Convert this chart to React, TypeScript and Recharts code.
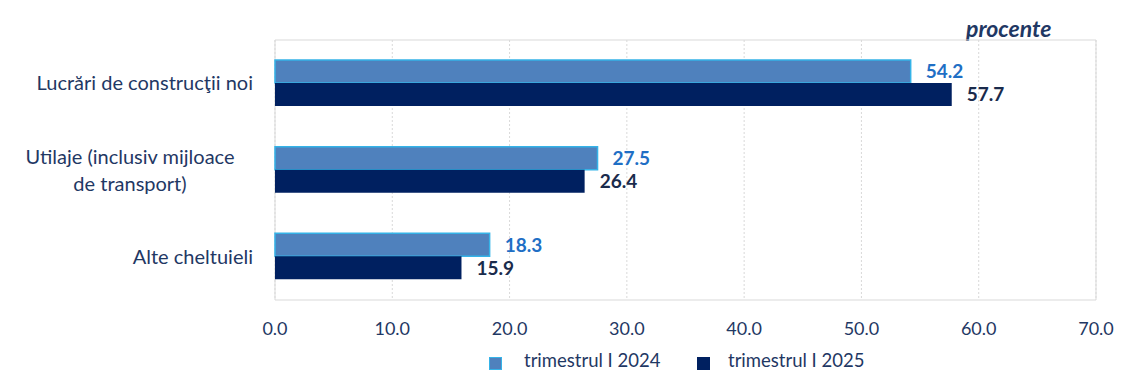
import { useEffect } from "react";
import {
  Bar,
  BarChart,
  CartesianGrid,
  LabelList,
  Legend,
  ReferenceArea,
  XAxis,
  YAxis,
} from "recharts";

const categories = [
  "Lucrări de construcţii noi",
  "Utilaje (inclusiv mijloace\nde transport)",
  "Alte cheltuieli",
];
const q1_2024 = [54.2, 27.5, 18.3];
const q1_2025 = [57.7, 26.4, 15.9];
const xTicks = [0, 10, 20, 30, 40, 50, 60, 70];
const seriesNames = ["trimestrul I 2024", "trimestrul I 2025"];

const FONT = "Lato, 'Noto Sans', sans-serif";
const NAVY = "#1F3864";
const C2024 = "#4F81BD";
const C2024_EDGE = "#35B3E8";
const C2025 = "#002060";

const data = categories.map((name, i) => ({
  name,
  a: q1_2024[i],
  b: q1_2025[i],
}));

function CategoryTick(props: any) {
  const { x, y, payload } = props;
  const lines = String(payload.value).split("\n");
  if (lines.length === 1) {
    return (
      <text x={x} y={y} dy="0.35em" textAnchor="end" fill={NAVY} fontSize={20} fontFamily={FONT}>
        {lines[0]}
      </text>
    );
  }
  const lh = 27;
  const start = -((lines.length - 1) * lh) / 2;
  return (
    <text x={x - 123} y={y} textAnchor="middle" fill={NAVY} fontSize={20} fontFamily={FONT}>
      {lines.map((l, i) => (
        <tspan key={i} x={x - 123} dy={i === 0 ? start + 7 : lh}>
          {l}
        </tspan>
      ))}
    </text>
  );
}

function LegendBox() {
  const items = [
    { name: seriesNames[0], fill: C2024, edge: C2024_EDGE, sq: 489, tx: 524 },
    { name: seriesNames[1], fill: C2025, edge: C2025, sq: 697, tx: 728 },
  ];
  return (
    <div style={{ position: "relative", height: 51, width: 1147, fontFamily: FONT }}>
      {items.map((it) => (
        <div key={it.name}>
          <div
            style={{
              position: "absolute",
              left: it.sq,
              top: 17,
              width: 11,
              height: 11,
              background: it.fill,
              border: `1px solid ${it.edge}`,
            }}
          />
          <div
            style={{
              position: "absolute",
              left: it.tx,
              top: 11,
              fontSize: 18.5,
              lineHeight: 1,
              color: NAVY,
              whiteSpace: "nowrap",
            }}
          >
            {it.name}
          </div>
        </div>
      ))}
    </div>
  );
}

export default function App() {
  useEffect(() => {
    document.body.style.margin = "0";
  }, []);
  return (
    <div style={{ position: "relative", width: 1147, height: 391, background: "#fff" }}>
      <div
        style={{
          position: "absolute",
          left: 966,
          top: 17,
          fontFamily: FONT,
          fontSize: 23,
          lineHeight: 1,
          fontWeight: 700,
          fontStyle: "italic",
          color: NAVY,
        }}
      >
        procente
      </div>
      <BarChart
        width={1147}
        height={391}
        data={data}
        layout="vertical"
        margin={{ top: 40, right: 51, left: 0, bottom: 0 }}
        barGap={0}
      >
        <CartesianGrid horizontal={false} stroke="#D9D9D9" strokeDasharray="2 2" />
        <ReferenceArea x1={0} x2={70} yAxisId="cat" stroke="#D9D9D9" fill="none" />
        <XAxis
          type="number"
          domain={[0, 70]}
          ticks={xTicks}
          tickFormatter={(v: number) => v.toFixed(1)}
          axisLine={false}
          tickLine={false}
          tickSize={0}
          tickMargin={22}
          height={40}
          tick={{ fill: NAVY, fontSize: 18, fontFamily: FONT }}
          interval={0}
        />
        <YAxis
          yAxisId="grid"
          type="number"
          domain={[0, 3]}
          ticks={[0, 1, 2, 3]}
          width={0}
          tickSize={7}
          tickFormatter={() => ""}
          axisLine={{ stroke: "#BFBFBF" }}
          tickLine={{ stroke: "#BFBFBF" }}
        />
        <YAxis
          yAxisId="cat"
          type="category"
          dataKey="name"
          width={275}
          axisLine={false}
          tickLine={false}
          tickSize={0}
          tickMargin={22}
          tick={<CategoryTick />}
          interval={0}
        />
        <Legend verticalAlign="bottom" content={() => <LegendBox />} />
        <Bar
          dataKey="a"
          yAxisId="cat"
          name={seriesNames[0]}
          fill={C2024}
          stroke={C2024_EDGE}
          strokeWidth={1.5}
          barSize={23}
          isAnimationActive={false}
        >
          <LabelList
            dataKey="a"
            position="right"
            offset={15}
            formatter={(v: any) => Number(v).toFixed(1)}
            fill="#1F6FC5"
            fontSize={19}
            fontWeight={700}
            fontFamily={FONT}
          />
        </Bar>
        <Bar
          dataKey="b"
          yAxisId="cat"
          name={seriesNames[1]}
          fill={C2025}
          barSize={23}
          isAnimationActive={false}
        >
          <LabelList
            dataKey="b"
            position="right"
            offset={15}
            formatter={(v: any) => Number(v).toFixed(1)}
            fill="#1A2B4C"
            fontSize={19}
            fontWeight={700}
            fontFamily={FONT}
          />
        </Bar>
      </BarChart>
    </div>
  );
}
